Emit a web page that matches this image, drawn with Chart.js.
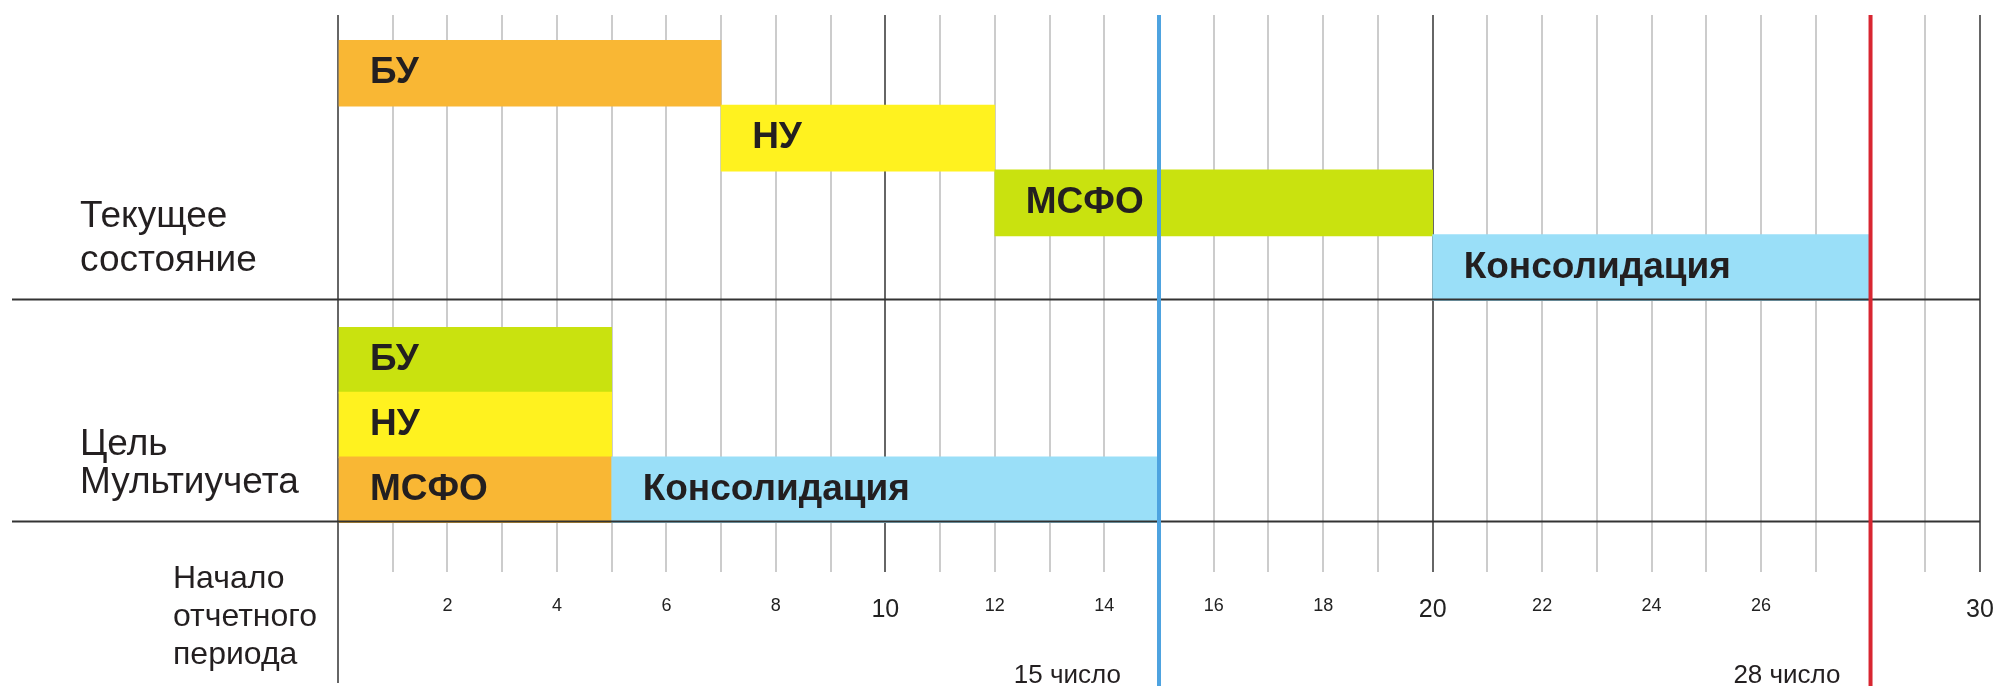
<!DOCTYPE html>
<html>
<head>
<meta charset="utf-8">
<script src="https://cdn.jsdelivr.net/npm/chart.js@4.4.1/dist/chart.umd.min.js"></script>
<style>
  html, body { margin: 0; padding: 0; background: #fff; }
  #wrap { width: 1997px; height: 686px; }
</style>
</head>
<body>
<div id="wrap"><canvas id="gantt" width="1997" height="686"></canvas></div>
<script>
var currentStages = ["БУ", "НУ", "МСФО", "Консолидация"];
var currentStart = [0, 7, 12, 20];
var currentEnd = [7, 12, 20, 28];
var currentRows = [0, 1, 2, 3];
var currentColors = ["#F9B734", "#FFF21F", "#C9E20F", "#9ADFF8"];

var goalStages = ["БУ", "НУ", "МСФО", "Консолидация"];
var goalStart = [0, 0, 0, 5];
var goalEnd = [5, 5, 5, 15];
var goalRows = [4.43, 5.43, 6.43, 6.43];
var goalColors = ["#C9E20F", "#FFF21F", "#F9B734", "#9ADFF8"];

var sectionLabels = [["Текущее", "состояние"], ["Цель", "Мультиучета"]];
var sectionBottoms = [3.485, 6.915];
var startLabel = ["Начало", "отчетного", "периода"];

var markerDays = [15, 28];
var markerLabels = ["15 число", "28 число"];
var markerColors = ["#4EA3E0", "#D82631"];

var tickValues = [2, 4, 6, 8, 10, 12, 14, 16, 18, 20, 22, 24, 26, 30];
var majorTicks = [10, 20, 30];

var FONT = "'Liberation Sans', Arial, sans-serif";

function bars(starts, ends, rows) {
  return starts.map(function (s, i) {
    return { x: [s, ends[i]], y: rows[i] };
  });
}

var overlay = {
  id: "overlay",
  afterDatasetsDraw: function (chart) {
    var ctx = chart.ctx;
    var area = chart.chartArea;
    var xs = chart.scales.x;
    var ys = chart.scales.y;
    ctx.save();

    // bar captions
    ctx.font = "bold 37px " + FONT;
    ctx.fillStyle = "#231F20";
    ctx.textAlign = "left";
    ctx.textBaseline = "alphabetic";
    chart.data.datasets.forEach(function (ds, di) {
      chart.getDatasetMeta(di).data.forEach(function (el, i) {
        var left = Math.min(el.base, el.x);
        ctx.fillText(ds.captions[i], left + 31, el.y + 10);
      });
    });

    // section separators
    ctx.strokeStyle = "#333";
    ctx.lineWidth = 2;
    sectionBottoms.forEach(function (v) {
      var y = Math.round(ys.getPixelForValue(v)) + 0.5;
      ctx.beginPath();
      ctx.moveTo(12, y);
      ctx.lineTo(area.right, y);
      ctx.stroke();
    });

    // zero line runs down past the axis
    var x0 = Math.round(xs.getPixelForValue(0));
    ctx.strokeStyle = "#666";
    ctx.beginPath();
    ctx.moveTo(x0, area.bottom);
    ctx.lineTo(x0, 683);
    ctx.stroke();

    // deadline markers
    var gaps = [38, 30];
    markerDays.forEach(function (d, i) {
      var x = xs.getPixelForValue(d);
      ctx.strokeStyle = markerColors[i];
      ctx.lineWidth = 4;
      ctx.beginPath();
      ctx.moveTo(x, area.top);
      ctx.lineTo(x, chart.height);
      ctx.stroke();
      ctx.font = "26px " + FONT;
      ctx.fillStyle = "#231F20";
      ctx.textAlign = "right";
      ctx.fillText(markerLabels[i], x - gaps[i], 683);
    });

    // row group titles
    ctx.font = "37px " + FONT;
    ctx.textAlign = "left";
    var firstOffsets = [72, 66];
    var lineSteps = [44, 38];
    sectionLabels.forEach(function (lines, s) {
      var yb = ys.getPixelForValue(sectionBottoms[s]);
      lines.forEach(function (t, k) {
        ctx.fillText(t, 80, yb - firstOffsets[s] + k * lineSteps[s]);
      });
    });

    ctx.font = "32px " + FONT;
    var yEnd = ys.getPixelForValue(sectionBottoms[1]);
    startLabel.forEach(function (t, k) {
      ctx.fillText(t, 173, yEnd + 67 + k * 38);
    });

    ctx.restore();
  },
};

new Chart(document.getElementById("gantt"), {
  type: "bar",
  data: {
    datasets: [
      {
        label: "Текущее состояние",
        data: bars(currentStart, currentEnd, currentRows),
        captions: currentStages,
        backgroundColor: currentColors,
        borderWidth: 0,
        barThickness: 66,
        grouped: false,
      },
      {
        label: "Цель Мультиучета",
        data: bars(goalStart, goalEnd, goalRows),
        captions: goalStages,
        backgroundColor: goalColors,
        borderWidth: 0,
        barThickness: 66,
        grouped: false,
      },
    ],
  },
  options: {
    indexAxis: "y",
    responsive: false,
    animation: false,
    devicePixelRatio: 1,
    layout: { padding: { left: 338, top: 15, right: 0, bottom: 38 } },
    plugins: { legend: { display: false }, tooltip: { enabled: false } },
    scales: {
      y: {
        type: "linear",
        display: false,
        offset: false,
        reverse: true,
        min: -0.9,
        max: 7.7,
      },
      x: {
        type: "linear",
        position: "bottom",
        min: 0,
        max: 30,
        border: { display: false },
        afterFit: function (scale) {
          scale.paddingRight = 17;
        },
        grid: {
          drawTicks: false,
          lineWidth: 2,
          color: function (c) {
            return c.tick && c.tick.value % 10 === 0 ? "#666" : "#ccc";
          },
        },
        ticks: {
          stepSize: 1,
          autoSkip: false,
          maxRotation: 0,
          padding: 23,
          color: "#222",
          font: function (c) {
            var big = c.tick && majorTicks.indexOf(c.tick.value) >= 0;
            return { family: FONT, size: big ? 25 : 18 };
          },
          callback: function (v) {
            return tickValues.indexOf(v) >= 0 ? String(v) : "";
          },
        },
      },
    },
  },
  plugins: [overlay],
});
</script>
</body>
</html>
